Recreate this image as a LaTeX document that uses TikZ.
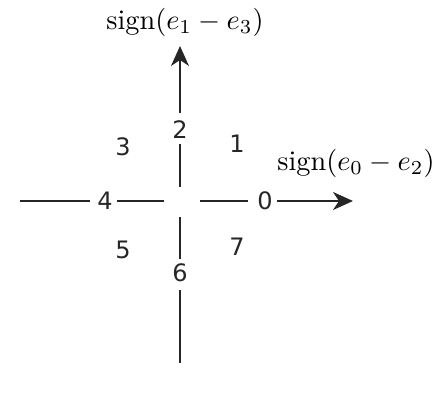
\documentclass[tikz,border=0pt]{standalone}
\usepackage{fontspec}
\usepackage{graphicx}
\newfontfamily\digitfont{DejaVu Sans}
\usetikzlibrary{arrows.meta}
\newcommand{\biglab}[1]{\scalebox{2.83}{\fontsize{10}{12}\selectfont #1}}
\begin{document}
\begin{tikzpicture}[x=1pt,y=-1pt,
  axis/.style={line width=2pt,color=black!85},
  arr/.style={axis,-{Stealth[length=20pt,width=18pt,inset=6pt]}},
  num/.style={font=\digitfont\fontsize{24}{28}\selectfont,text=black!85,inner sep=0pt},
  lab/.style={inner sep=0pt}]
\useasboundingbox (0,0) rectangle (437,401);
% numbers
\node[num] (n0) at (265,201) {0};
\node[num] (n1) at (237,144) {1};
\node[num] (n2) at (180,130) {2};
\node[num] (n3) at (123,147) {3};
\node[num] (n4) at (105,201) {4};
\node[num] (n5) at (123,250) {5};
\node[num] (n6) at (180,273) {6};
\node[num] (n7) at (237,247) {7};
% axis labels
\node[lab] (ly) at (185,22) {\biglab{$\mathrm{sign}(e_1-e_3)$}};
\node[lab] (lx) at (356,163) {\biglab{$\mathrm{sign}(e_0-e_2)$}};
% coordinates
\coordinate (ytop) at (180,46);
\coordinate (yupA) at (180,113);
\coordinate (yupB) at (180,144);
\coordinate (yupC) at (180,187);
\coordinate (ydnA) at (180,217);
\coordinate (ydnB) at (180,259);
\coordinate (ydnC) at (180,290);
\coordinate (ydnD) at (180,363);
\coordinate (xlA) at (20,201);
\coordinate (xlB) at (90,201);
\coordinate (xlC) at (117,201);
\coordinate (xlD) at (164,201);
\coordinate (xrA) at (200,201);
\coordinate (xrB) at (248,201);
\coordinate (xrC) at (277,201);
\coordinate (xtip) at (353,201);
% axes
\draw[arr] (yupA) -- (ytop);
\draw[axis] (yupB) -- (yupC);
\draw[axis] (ydnA) -- (ydnB);
\draw[axis] (ydnC) -- (ydnD);
\draw[axis] (xlA) -- (xlB);
\draw[axis] (xlC) -- (xlD);
\draw[axis] (xrA) -- (xrB);
\draw[arr] (xrC) -- (xtip);
\end{tikzpicture}
\end{document}
